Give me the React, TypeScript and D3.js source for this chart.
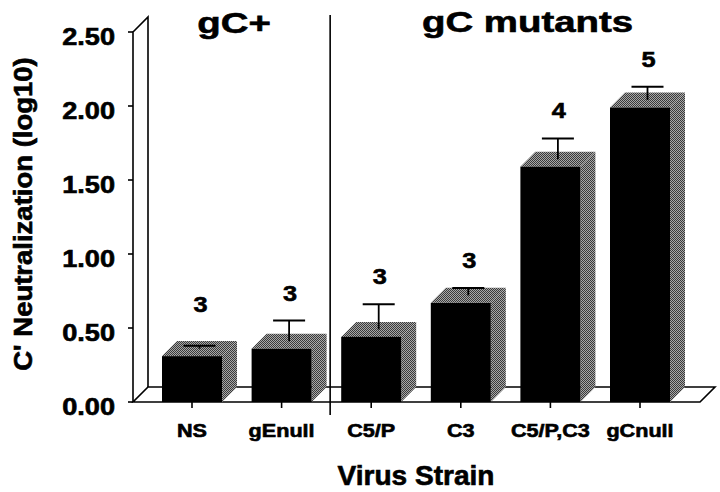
import React from 'react'
import * as d3 from 'd3'

// data
const strains = ['NS', 'gEnull', 'C5/P', 'C3', 'C5/P,C3', 'gCnull']
const means = [0.31, 0.36, 0.44, 0.67, 1.59, 1.99]
const errors = [0.02, 0.14, 0.17, 0.05, 0.14, 0.09]
const counts = ['3', '3', '3', '3', '4', '5']
const yTicks = [0, 0.5, 1, 1.5, 2, 2.5]
const groups = ['gC+', 'gC mutants']

const W = 720
const H = 492
const FONT = '"Liberation Sans", Arial, Helvetica, sans-serif'
const DX = 15 // depth of the 3d box
const DY = 15
const BAR_W = 60

function Txt({ x, y, size, sx = 1.2, anchor = 'middle', rotate = 0, children }: any) {
    return (
        <text
            transform={`translate(${x},${y}) rotate(${rotate}) scale(${sx},1)`}
            textAnchor={anchor}
            fontFamily={FONT}
            fontWeight="bold"
            fontSize={size}
            fill="#000"
            stroke="#000"
            strokeWidth={0.6}
        >
            {children}
        </text>
    )
}

export default function App() {
    const y = d3.scaleLinear().domain([0, 2.5]).range([402, 32])
    const x = d3.scalePoint<string>().domain(strains).range([192, 640])

    const axisX = 133
    const floorRight = 700
    const y0 = y(0)
    const yTop = y(2.5)

    const divX = (x('gEnull')! + x('C5/P')!) / 2 + DX / 4
    const leftMid = (axisX + DX + divX) / 2
    const rightMid = (divX + floorRight + DX) / 2

    const floor = [
        [axisX, y0], [floorRight, y0], [floorRight + DX, y0 - DY], [axisX + DX, y0 - DY],
    ]
    const lineGen = d3.line()

    return (
        <svg width={W} height={H} style={{ position: 'absolute', left: 0, top: 0, background: '#fff' }}>
            <defs>
                <pattern id="dots" width={2} height={2} patternUnits="userSpaceOnUse">
                    <rect width={2} height={2} fill="#a8a8a8" />
                    <rect width={1} height={1} fill="#3a3a3a" />
                    <rect x={1} y={1} width={1} height={1} fill="#3a3a3a" />
                </pattern>
            </defs>

            {/* floor and left wall */}
            <path d={lineGen(floor as any) + 'Z'} fill="#fff" stroke="#000" strokeWidth={1.6} />
            <path
                d={lineGen([[axisX, y0], [axisX, yTop], [axisX + DX, yTop - DY], [axisX + DX, y0 - DY]] as any)!}
                fill="none" stroke="#000" strokeWidth={1.6}
            />
            <line x1={divX} x2={divX} y1={yTop - DY - 2} y2={y0 + 13} stroke="#000" strokeWidth={1.6} />

            {/* y ticks */}
            {yTicks.map(t => (
                <g key={t}>
                    <line x1={axisX - 5} x2={axisX} y1={y(t)} y2={y(t)} stroke="#000" strokeWidth={1.6} />
                    <Txt x={115} y={y(t) + 13} size={23} sx={1.18} anchor="end">{t.toFixed(2)}</Txt>
                </g>
            ))}

            {/* bars */}
            {strains.map((s, i) => {
                const cx = x(s)!
                const x0 = cx - BAR_W / 2
                const x1 = cx + BAR_W / 2
                const yt = y(means[i])
                const side = [[x1, yt], [x1 + DX, yt - DY], [x1 + DX, y0 - DY], [x1, y0]]
                const top = [[x0, yt], [x0 + DX, yt - DY], [x1 + DX, yt - DY], [x1, yt]]
                return (
                    <g key={s}>
                        <path d={lineGen(side as any) + 'Z'} fill="url(#dots)" />
                        <path d={lineGen(top as any) + 'Z'} fill="url(#dots)" />
                        <rect x={x0} y={yt} width={BAR_W} height={y0 - yt} fill="#000" />
                        <line x1={cx} x2={cx} y1={y0} y2={y0 + 6} stroke="#000" strokeWidth={1.6} />
                    </g>
                )
            })}

            {/* error bars and n labels */}
            {strains.map((s, i) => {
                const ex = x(s)! + DX / 2
                const ym = y(means[i]) - DY / 2
                const ye = y(means[i] + errors[i]) - DY / 2
                const ly = Math.min(ye - 28, y(0.66))
                return (
                    <g key={s + '-err'}>
                        <line x1={ex} x2={ex} y1={ym} y2={ye} stroke="#000" strokeWidth={1.8} />
                        <line x1={ex - 16} x2={ex + 16} y1={ye} y2={ye} stroke="#000" strokeWidth={2} />
                        <Txt x={ex + 1} y={ly + 8} size={22} sx={1.15}>{counts[i]}</Txt>
                    </g>
                )
            })}

            {/* category labels */}
            {strains.map(s => (
                <Txt key={s + '-lab'} x={x(s)!} y={437} size={18} sx={1.2}>{s}</Txt>
            ))}

            {/* group titles */}
            <Txt x={leftMid - 5} y={33} size={30} sx={1.28}>{groups[0]}</Txt>
            <Txt x={rightMid + 5} y={32} size={30} sx={1.28}>{groups[1]}</Txt>

            {/* axis titles */}
            <Txt x={416} y={485} size={27} sx={1.04}>Virus Strain</Txt>
            <Txt x={32} y={214} size={25} sx={1.1} rotate={-90}>C' Neutralization (log10)</Txt>
        </svg>
    )
}
